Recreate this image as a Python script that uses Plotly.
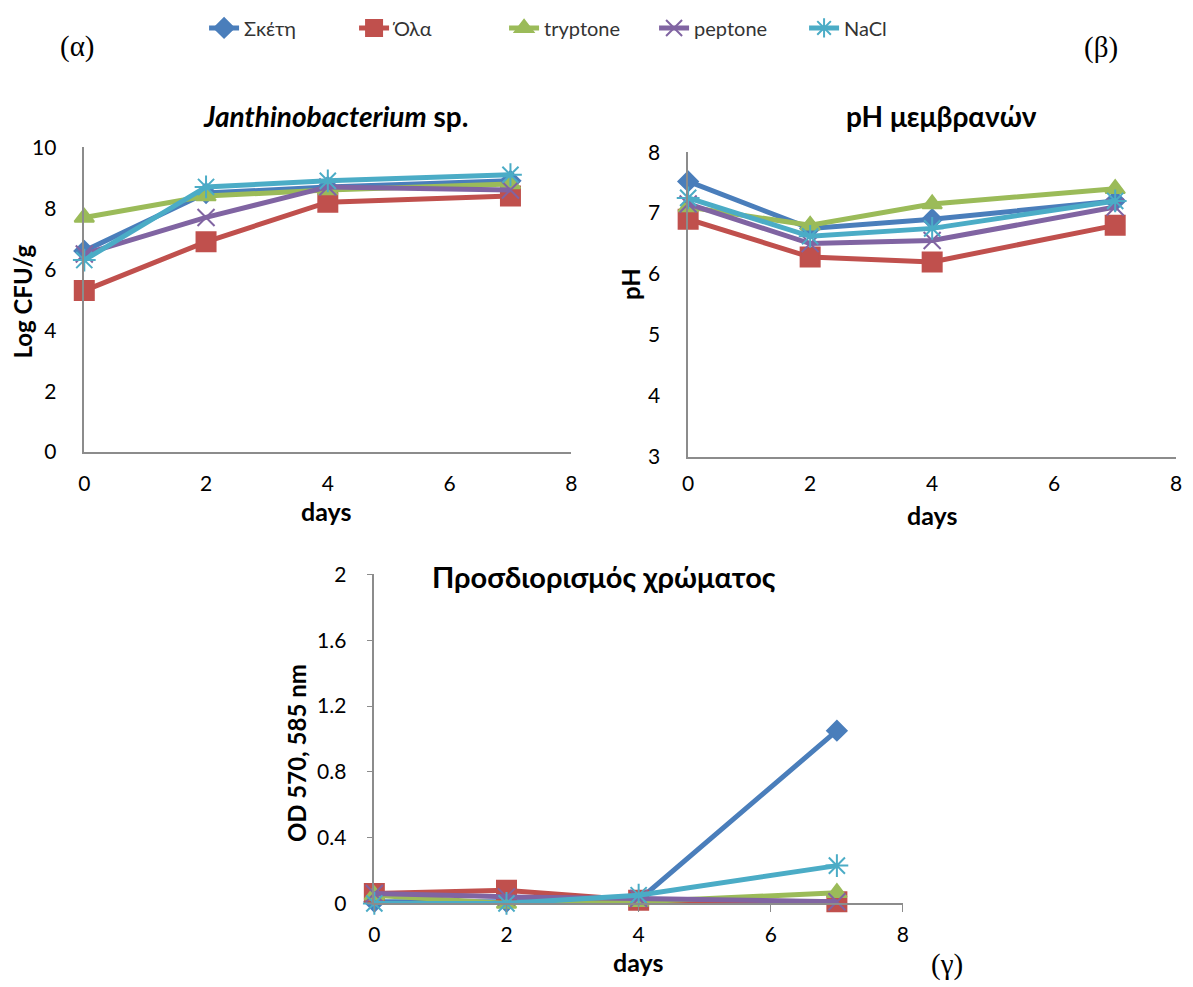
import plotly.graph_objects as go

days = [0, 2, 4, 7]
series_names = ["Σκέτη", "Όλα", "tryptone", "peptone", "NaCl"]

# Panel (α) Log CFU/g
cfu_sketi = [6.6, 8.5, 8.7, 8.9]
cfu_ola = [5.3, 6.9, 8.2, 8.4]
cfu_tryptone = [7.7, 8.4, 8.6, 8.8]
cfu_peptone = [6.5, 7.7, 8.7, 8.6]
cfu_nacl = [6.3, 8.7, 8.9, 9.1]

# Panel (β) pH
ph_sketi = [7.52, 6.75, 6.9, 7.2]
ph_ola = [6.9, 6.28, 6.2, 6.8]
ph_tryptone = [7.1, 6.8, 7.15, 7.4]
ph_peptone = [7.15, 6.5, 6.55, 7.1]
ph_nacl = [7.25, 6.62, 6.75, 7.2]

# Panel (γ) OD 570, 585 nm
od_sketi = [0.01, 0.01, 0.02, 1.05]
od_ola = [0.06, 0.08, 0.02, 0.01]
od_tryptone = [0.05, 0.0, 0.01, 0.065]
od_peptone = [0.06, 0.04, 0.03, 0.01]
od_nacl = [0.0, 0.0, 0.05, 0.23]

colors = ["#4A7EBB", "#C0504D", "#9BBB59", "#8064A2", "#4BACC6"]
symbols = ["diamond", "square", "triangle-up", "x-thin-open", "asterisk-open"]
msizes = [15, 19, 17, 17, 19]

W, H = 1193, 987
OFF = 8  # default page body margin
def px(x):
    return (x - OFF) / W
def py(y):
    return 1 - (y - OFF) / H

fig = go.Figure()

panels = [
    ("x", "y", [cfu_sketi, cfu_ola, cfu_tryptone, cfu_peptone, cfu_nacl]),
    ("x2", "y2", [ph_sketi, ph_ola, ph_tryptone, ph_peptone, ph_nacl]),
    ("x3", "y3", [od_sketi, od_ola, od_tryptone, od_peptone, od_nacl]),
]

for pi, (xa, ya, data) in enumerate(panels):
    for i, vals in enumerate(data):
        fig.add_trace(go.Scatter(
            x=days, y=vals, mode="lines+markers", name=series_names[i],
            xaxis=xa, yaxis=ya, showlegend=(pi == 0), legendgroup=series_names[i],
            line=dict(color=colors[i], width=5),
            marker=dict(symbol=symbols[i], size=msizes[i], color=colors[i],
                        line=dict(color=colors[i], width=2)),
            cliponaxis=False,
        ))

tickfont = dict(family="Lato, Open Sans, sans-serif", size=21, color="#000000")
base = dict(showline=True, linecolor="#8C8C8C", linewidth=1.5, showgrid=False,
            zeroline=False, tickfont=tickfont, mirror=False, tickcolor="#8C8C8C")
x_nt = dict(base, ticks="", ticklabelstandoff=12)
x_nt2 = dict(base, ticks="", ticklabelstandoff=7)
y_nt = dict(base, ticks="", ticklabelstandoff=22)
x_t = dict(base, ticks="outside", ticklen=7, ticklabelstandoff=5)
y_t = dict(base, ticks="outside", ticklen=6, ticklabelstandoff=16)

fig.update_layout(
    width=W, height=H, margin=dict(l=0, r=0, t=0, b=0),
    paper_bgcolor="white", plot_bgcolor="white",
    showlegend=True,
    legend=dict(orientation="h", x=px(200), y=py(10), xanchor="left", yanchor="middle",
                font=dict(family="Lato, Open Sans, sans-serif", size=20, color="#333333"),
                entrywidth=105, itemwidth=30, traceorder="normal"),
    xaxis=dict(domain=[px(79), px(571)], range=[0, 8], dtick=2, anchor="y", **x_nt),
    yaxis=dict(domain=[py(447), py(133)], range=[0, 10], dtick=2, anchor="x", **y_nt),
    xaxis2=dict(domain=[px(689), px(1182)], range=[0, 8], dtick=2, anchor="y2", **x_nt2),
    yaxis2=dict(domain=[py(452), py(138)], range=[3, 8], dtick=1, anchor="x2", **y_nt),
    xaxis3=dict(domain=[px(372), px(906)], range=[0, 8], dtick=2, anchor="y3", **x_t),
    yaxis3=dict(domain=[py(912), py(573)], range=[0, 2], dtick=0.4, anchor="x3",
                tickformat="~g", **y_t),
)

title_font = dict(family="Lato, Open Sans, sans-serif", size=28, color="#000000")
axis_font = dict(family="Lato, Open Sans, sans-serif", size=24, color="#000000")
serif = dict(family="Liberation Serif, Times New Roman, serif", size=29, color="#000000")

annots = [
    ("(α)", 72, 29, serif, 0),
    ("(β)", 1106, 30, serif, 0),
    ("(γ)", 950, 975, serif, 0),
    ("<b><i>Janthinobacterium</i> sp.</b>", 333, 101, title_font, 0),
    ("<b>pH μεμβρανών</b>", 945, 101, title_font, 0),
    ("<b>Προσδιορισμός χρώματος</b>", 604, 575, dict(title_font, size=29), 0),
    ("<b>days</b>", 323, 508, dict(axis_font, size=25), 0),
    ("<b>days</b>", 935, 512, dict(axis_font, size=25), 0),
    ("<b>days</b>", 638, 972, dict(axis_font, size=25), 0),
    ("<b>Log CFU/g</b>", 17, 292, axis_font, -90),
    ("<b>pH</b>", 630, 274, axis_font, -90),
    ("<b>OD 570, 585 nm</b>", 294, 757, axis_font, -90),
]
for text, x, y, font, ang in annots:
    fig.add_annotation(text=text, x=px(x), y=py(y), xref="paper", yref="paper",
                       showarrow=False, font=font, textangle=ang,
                       xanchor="center", yanchor="middle")

fig.write_html("out.html")
